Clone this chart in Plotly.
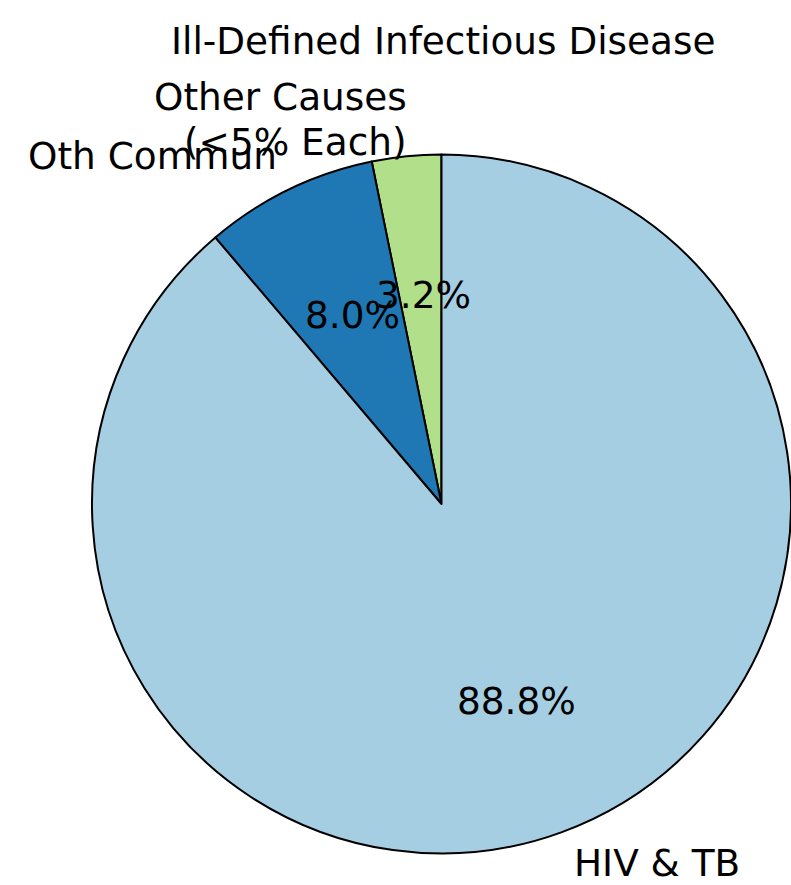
import math
import plotly.graph_objects as go

# ---- data ----
labels = ["Other Causes\n(<5% Each)", "Oth Commun", "HIV & TB"]
values = [3.2, 8.0, 88.8]
colors = ["#b2df8a", "#1f78b4", "#a6cee3"]
title_text = "Ill-Defined Infectious Disease"

# ---- layout constants (pixels) ----
W, H = 791, 885
CX, CY, R = 441.5, 504, 349.5
FONT = "DejaVu Sans"
FS = 37.4

total = sum(values)
# plotly's counterclockwise pies end the first slice at the rotation angle;
# shift so the first slice starts at 12 o'clock (like matplotlib startangle=90)
rot = -360 * values[0] / total

fig = go.Figure(go.Pie(
    labels=[l.replace("\n", " ") for l in labels],
    values=values,
    sort=False,
    direction="counterclockwise",
    rotation=rot,
    marker=dict(colors=colors, line=dict(color="black", width=2)),
    textinfo="none",
    hoverinfo="label+percent",
    showlegend=False,
    domain=dict(x=[(CX - R) / W, 1.0],
                y=[(H - CY - R) / H, (H - CY + R) / H]),
))

def px2paper(x, y):
    return x / W, 1 - y / H

XSHIFT = {"center": 3, "right": 4, "left": 0}

def ann(x, y, text, xanchor="center", yshift=0):
    return dict(x=x, y=y, xref="paper", yref="paper", text=text,
                showarrow=False, xanchor=xanchor, yanchor="middle",
                xshift=XSHIFT[xanchor], yshift=yshift,
                borderpad=0, borderwidth=0,
                font=dict(family=FONT, size=FS, color="black"))

annotations = []
cum = 0.0
for lab, v in zip(labels, values):
    theta = math.radians(90 + 360 * (cum + v / 2) / total)
    cum += v
    c, s = math.cos(theta), math.sin(theta)
    # percent label at 0.6 R
    px, py = px2paper(CX + 0.6 * R * c, CY - 0.6 * R * s)
    annotations.append(ann(px, py, f"{v / total * 100:.1f}%"))
    # category label at 1.1 R
    lines = lab.split("\n")
    n = len(lines)
    lh = 1.2 * FS
    for i, line in enumerate(lines):
        off = (i - (n - 1) / 2) * lh
        lx, ly = px2paper(CX + 1.1 * R * c, CY - 1.1 * R * s + off)
        annotations.append(ann(lx, ly, line.replace("<", "&lt;"),
                               xanchor="left" if c > 0 else "right",
                               yshift=2))

tx, ty = px2paper(443, 41)
annotations.append(ann(tx, ty, title_text))
annotations[-1]["xshift"] = 0

fig.update_layout(
    width=W, height=H,
    margin=dict(l=0, r=0, t=0, b=0),
    paper_bgcolor="white",
    plot_bgcolor="white",
    annotations=annotations,
)

fig.write_html("out.html",
               config={"displayModeBar": False},
               post_script="document.body.style.margin='0';document.body.style.overflow='hidden';")
